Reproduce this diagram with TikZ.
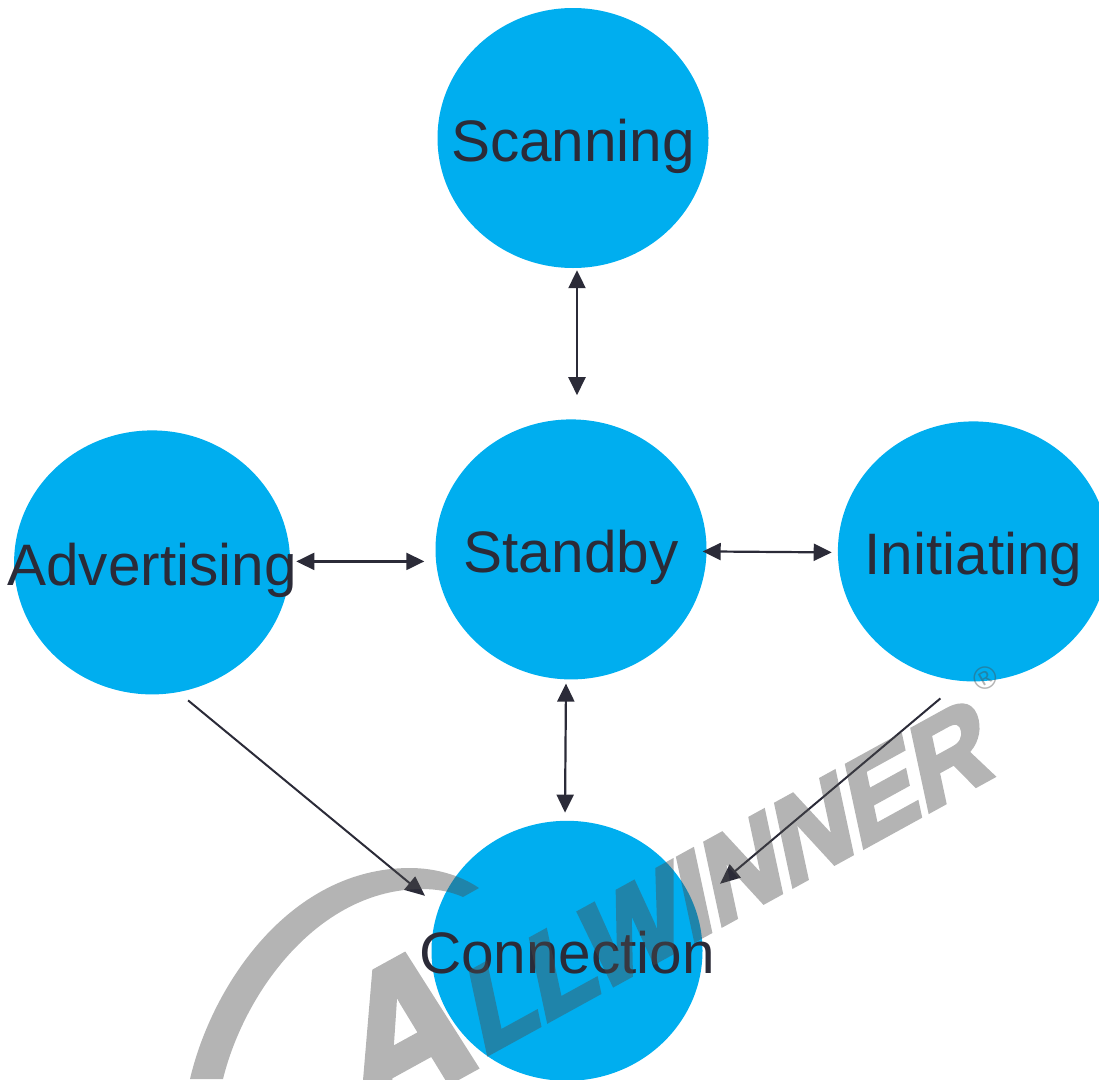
\documentclass[tikz,border=0pt]{standalone}
\usepackage{fontspec}
\usepackage{xcolor}
\usepackage{tikz}
\usetikzlibrary{shapes.geometric,arrows.meta,positioning}
\setmainfont{Liberation Sans}
\newfontfamily\logofont[BoldFeatures={FakeBold=4}]{Liberation Sans}
\definecolor{stateblue}{HTML}{00AEEF}
\definecolor{inkdark}{HTML}{2B2B38}
\definecolor{markgray}{HTML}{4C4C4C}
\newcommand{\statelabel}[1]{\makebox[0pt]{#1}}

\begin{document}
\begin{tikzpicture}[
    x=1pt, y=-1pt,
    state/.style={ellipse, fill=stateblue, text=inkdark, inner sep=0pt, minimum width=271pt, minimum height=260pt,
        font=\fontsize{58.5}{60}\selectfont, text height=50pt, text depth=4pt},
    link/.style={draw=inkdark, line width=2.2pt, {Triangle[length=18pt,width=17pt]}-{Triangle[length=18pt,width=17pt]}},
    linkone/.style={draw=inkdark, line width=2pt, -{Triangle[length=20pt,width=17pt]}},
    logotext/.style={text=markgray, anchor=base west, inner sep=0pt, rotate=28.8, xslant=0.3}
]
\clip (0,0) rectangle (1099,1079);

% States
\node[state] (scanning) at (573,138) {\statelabel{Scanning}};
\node[state, below=151pt of scanning, xshift=-2pt] (standby) {\statelabel{Standby}};
\node[state, left=145pt of standby, yshift=-13pt, minimum width=276pt, minimum height=264pt] (advertising) {\statelabel{Advertising}};
\node[state, right=131pt of standby, yshift=-2pt] (initiating) {\statelabel{Initiating}};
\node[state, below=141pt of standby, xshift=-4pt] (connection) {\statelabel{Connection}};

% Arrows
\draw[link] ([shift={(4,2)}]scanning.south) -- ([shift={(6,-24)}]standby.north);
\draw[link] ([shift={(-5,4)}]standby.south) -- ([shift={(-2,-8)}]connection.north);
\draw[link] ([shift={(6,-1)}]advertising.east) -- ([shift={(-11,12)}]standby.west);
\draw[link] ([shift={(-4,2)}]standby.east) -- ([shift={(-6,1)}]initiating.west);
\draw[linkone] ([shift={(36,138)}]advertising.center) -- ([shift={(-142,-55)}]connection.center);
\draw[linkone] ([shift={(-33,147)}]initiating.center) -- ([shift={(153,-67)}]connection.center);

% Watermark
\begin{scope}[transparency group, opacity=0.42]
\path[fill=markgray] (190,1079) .. controls (212,985) and (290,868) .. (410,868) .. controls (435,868) and (460,875) .. (479,888) -- (463,897) .. controls (450,891) and (435,889) .. (422,889) .. controls (320,889) and (245,990) .. (223,1079) -- cycle;
\node[logotext, font=\logofont\fontsize{190}{190}\selectfont\bfseries] (logoa) at (358,1131) {A};
\node[logotext, xscale=0.965, font=\logofont\fontsize{116}{116}\selectfont\bfseries] (logo) at (482,1057) {LLWINNER};
\node[text=markgray, rotate=29.5, font=\fontsize{32}{32}\selectfont] (regmark) at (985,678) {®};
\end{scope}
\end{tikzpicture}
\end{document}
